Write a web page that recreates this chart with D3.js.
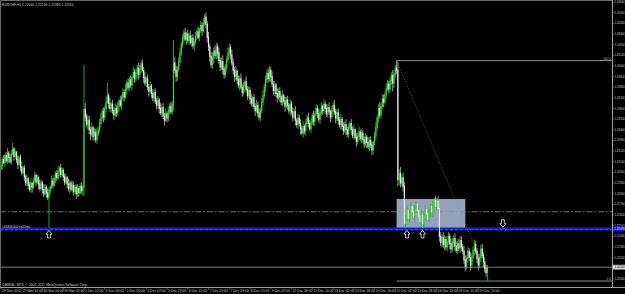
<!DOCTYPE html>
<html>
<head>
<meta charset="utf-8">
<script src="https://cdn.jsdelivr.net/npm/d3@7"></script>
<style>
html, body { margin: 0; background: #000; }
svg { display: block; font-family: "Liberation Sans", Arial, sans-serif; }
</style>
</head>
<body>
<svg id="chart"></svg>
<script>
// EURCHF H1 closes, one per bar (open = previous close)
const firstOpen = 1.2303
const closes = [
  1.2306,1.2312,1.2309,1.2316,1.2311,1.2318,1.2314,1.2310,1.2317,1.2322,
  1.2315,1.2319,1.2312,1.2308,1.2314,1.2305,1.2300,1.2304,1.2296,1.2290,
  1.2294,1.2288,1.2284,1.2290,1.2286,1.2292,1.2297,1.2291,1.2295,1.2289,
  1.2285,1.2290,1.2284,1.2280,1.2286,1.2281,1.2277,1.2283,1.2286,1.2292,
  1.2288,1.2294,1.2299,1.2295,1.2301,1.2304,1.2298,1.2302,1.2296,1.2291,
  1.2295,1.2289,1.2285,1.2290,1.2284,1.2288,1.2282,1.2286,1.2280,1.2285,
  1.2281,1.2287,1.2283,1.2286,1.2359,1.2352,1.2345,1.2349,1.2340,1.2336,
  1.2342,1.2334,1.2338,1.2331,1.2336,1.2340,1.2346,1.2351,1.2357,1.2352,
  1.2360,1.2366,1.2372,1.2365,1.2360,1.2364,1.2358,1.2354,1.2360,1.2356,
  1.2362,1.2367,1.2363,1.2370,1.2375,1.2371,1.2378,1.2384,1.2380,1.2387,
  1.2382,1.2389,1.2394,1.2388,1.2393,1.2398,1.2392,1.2397,1.2402,1.2396,
  1.2389,1.2384,1.2388,1.2380,1.2376,1.2381,1.2374,1.2370,1.2375,1.2367,
  1.2363,1.2368,1.2360,1.2356,1.2361,1.2353,1.2349,1.2355,1.2351,1.2358,
  1.2362,1.2357,1.2364,1.2403,1.2396,1.2390,1.2397,1.2404,1.2412,1.2420,
  1.2426,1.2431,1.2425,1.2430,1.2424,1.2428,1.2422,1.2426,1.2419,1.2423,
  1.2428,1.2432,1.2427,1.2434,1.2438,1.2433,1.2440,1.2446,1.2439,1.2427,
  1.2418,1.2409,1.2401,1.2407,1.2414,1.2410,1.2418,1.2412,1.2405,1.2399,
  1.2404,1.2397,1.2392,1.2398,1.2406,1.2412,1.2417,1.2410,1.2403,1.2396,
  1.2390,1.2395,1.2387,1.2382,1.2388,1.2380,1.2375,1.2381,1.2385,1.2378,
  1.2372,1.2377,1.2369,1.2365,1.2370,1.2362,1.2358,1.2363,1.2356,1.2352,
  1.2358,1.2366,1.2372,1.2380,1.2387,1.2393,1.2388,1.2396,1.2390,1.2383,
  1.2377,1.2382,1.2374,1.2370,1.2376,1.2371,1.2366,1.2372,1.2367,1.2362,
  1.2368,1.2363,1.2358,1.2364,1.2357,1.2352,1.2357,1.2349,1.2345,1.2351,
  1.2346,1.2341,1.2337,1.2343,1.2339,1.2346,1.2351,1.2346,1.2341,1.2347,
  1.2353,1.2348,1.2355,1.2360,1.2355,1.2350,1.2356,1.2362,1.2358,1.2364,
  1.2360,1.2355,1.2361,1.2357,1.2352,1.2358,1.2363,1.2357,1.2351,1.2356,
  1.2349,1.2345,1.2350,1.2343,1.2339,1.2345,1.2340,1.2336,1.2342,1.2346,
  1.2340,1.2335,1.2340,1.2333,1.2329,1.2334,1.2338,1.2332,1.2337,1.2331,
  1.2327,1.2333,1.2328,1.2324,1.2330,1.2326,1.2321,1.2328,1.2334,1.2342,
  1.2351,1.2360,1.2354,1.2362,1.2369,1.2366,1.2373,1.2379,1.2383,1.2378,
  1.2386,1.2391,1.2384,1.2392,1.2398,1.2396,1.2293,1.2299,1.2290,1.2295,
  1.2287,1.2252,1.2258,1.2264,1.2257,1.2262,1.2268,1.2263,1.2258,1.2265,
  1.2270,1.2264,1.2259,1.2254,1.2260,1.2252,1.2258,1.2265,1.2261,1.2256,
  1.2262,1.2268,1.2263,1.2270,1.2274,1.2268,1.2273,1.2266,1.2240,1.2234,
  1.2239,1.2232,1.2237,1.2230,1.2235,1.2240,1.2233,1.2228,1.2234,1.2238,
  1.2231,1.2227,1.2233,1.2229,1.2236,1.2230,1.2226,1.2218,1.2212,1.2219,
  1.2226,1.2220,1.2213,1.2220,1.2227,1.2232,1.2226,1.2219,1.2213,1.2220,
  1.2228,1.2222,1.2216,1.2210,1.2206,1.2211
]

// wick lengths above / below the body, in pips, one per bar
const upperWicks = [
  3,2,4,1,3,5,2,3,4,6,2,3,1,4,2,3,5,2,3,2,
  4,2,3,5,1,3,4,2,3,2,4,3,2,5,3,2,4,3,2,5,
  3,4,2,3,5,2,4,3,2,3,4,2,5,3,2,4,3,2,3,4,
  2,3,4,2,4,6,3,5,4,3,5,2,4,3,6,3,4,5,3,4,
  3,5,4,3,5,2,4,3,5,3,4,2,5,3,4,3,5,2,4,3,
  4,3,5,3,4,3,5,4,3,4,3,5,2,4,3,5,2,4,3,4,
  3,4,2,5,3,4,3,5,2,4,3,4,3,2,5,4,3,4,5,3,
  4,3,5,2,4,3,5,3,4,2,4,3,5,2,4,3,5,2,4,3,
  5,3,4,6,3,5,4,3,5,3,4,6,3,4,3,5,4,3,5,4,
  3,5,2,4,3,5,3,4,2,5,3,4,3,5,2,4,3,5,3,4,
  3,4,5,3,4,3,5,4,3,5,3,4,2,5,3,4,3,5,2,4,
  3,4,2,5,3,4,3,5,2,4,3,4,3,5,2,4,3,5,3,4,
  3,5,2,4,3,5,3,4,2,5,3,4,3,5,2,4,3,5,3,4,
  4,3,5,2,4,3,5,3,4,2,4,3,5,2,4,3,5,2,4,3,
  3,4,2,5,3,4,3,2,4,5,3,4,6,3,5,4,3,5,4,3,
  4,3,5,4,3,2,8,4,6,3,5,4,3,5,4,3,4,3,5,4,
  3,4,5,3,4,3,5,4,3,4,5,3,4,3,2,4,3,5,6,4,
  3,5,4,3,5,4,3,5,4,3,5,4,3,5,2,4,3,5,4,3,
  4,3,5,4,3,5,4,3,5,3,4,5,3,4,3,2
]
const lowerWicks = [
  2,3,1,4,2,3,5,2,3,1,4,2,3,5,2,4,3,2,4,3,
  3,4,2,3,5,2,3,4,2,5,3,2,4,3,2,5,3,6,4,2,
  3,2,4,3,2,5,3,2,4,3,2,4,3,5,2,3,4,2,5,3,
  4,2,3,5,8,4,3,5,4,6,3,4,5,3,4,2,3,4,3,5,
  3,4,2,5,3,4,3,5,2,4,3,5,2,4,3,4,2,5,3,4,
  3,5,2,4,3,4,5,3,4,2,5,3,4,3,5,2,4,3,5,3,
  4,3,5,2,4,3,5,2,4,3,4,2,3,6,3,5,4,3,4,3,
  3,4,2,5,3,4,2,4,3,5,3,4,2,4,3,5,2,3,4,5,
  4,5,3,4,5,3,4,5,3,4,3,5,4,3,4,3,5,4,3,4,
  5,3,4,3,5,2,4,3,5,3,4,2,5,3,4,3,5,2,4,3,
  4,3,4,3,5,3,4,3,5,3,4,5,3,4,2,5,3,4,3,5,
  2,4,3,5,3,4,2,5,3,4,3,5,2,4,3,5,3,4,2,4,
  3,4,5,2,4,3,5,3,4,2,5,3,4,3,5,2,4,3,5,3,
  4,3,5,3,4,2,5,3,4,3,5,3,4,2,5,3,4,3,5,3,
  4,3,5,2,4,3,5,4,3,4,3,5,3,4,3,5,2,4,3,4,
  3,4,2,5,3,4,6,5,4,3,5,3,4,3,5,4,3,4,3,5,
  3,4,3,5,4,3,4,3,5,4,3,4,3,5,3,4,3,4,5,3,
  4,3,5,3,4,3,5,4,3,4,5,3,4,3,5,4,3,4,5,3,
  4,3,5,3,4,5,3,4,5,3,4,3,5,4,4,3
]

// long wicks that stand out
const spikes = [
  { bar: 37,  low: 1.2248 },
  { bar: 64,  high: 1.2401 },
  { bar: 82,  high: 1.2384 },
  { bar: 109, high: 1.2406 },
  { bar: 133, high: 1.2424 },
  { bar: 157, high: 1.2449 },
  { bar: 286, low: 1.2316 },
  { bar: 302, low: 1.2376 },
  { bar: 305, high: 1.2405 },
  { bar: 325, low: 1.2248 },
  { bar: 354, high: 1.2240 },
  { bar: 375, low: 1.2198 }
]

const priceTicks = [
  1.2460,1.2450,1.2440,1.2430,1.2420,1.2410,1.2400,1.2390,1.2380,
  1.2370,1.2360,1.2350,1.2340,1.2330,1.2320,1.2310,1.2300,1.2290,
  1.2280,1.2270,1.2260,1.2250,1.2240,1.2230,1.2220,1.2210,1.2200
]

const timeLabels = [
  "28 Nov 2011","29 Nov 12:00","30 Nov 04:00","30 Nov 20:00","1 Dec 12:00",
  "2 Dec 04:00","2 Dec 20:00","5 Dec 07:00","5 Dec 23:00","6 Dec 15:00",
  "7 Dec 07:00","7 Dec 23:00","8 Dec 15:00","9 Dec 07:00","11 Dec 18:00",
  "12 Dec 10:00","13 Dec 02:00","13 Dec 18:00","14 Dec 10:00","15 Dec 02:00",
  "15 Dec 18:00","16 Dec 10:00","18 Dec 21:00","19 Dec 13:00"
]
const barsPerLabel = 16

const sellLimit = 1.2247
const dashLevel = 1.2263
const box = { from: 305, to: 358, top: 1.2275, bottom: 1.2247 }
const fibo = { from: 305, high: 1.2405, to: 375, low: 1.2198 }
const upArrows = [37, 313, 325]
const downArrows = [387]

var width = 625, height = 294
var plotRight = 612, plotBottom = 287

var svg = d3.select("#chart").attr("width", width).attr("height", height)

var xScale = d3.scaleLinear().domain([0, 471]).range([1, 1 + 471 * 1.297])
var yScale = d3.scaleLinear().domain([1.2460, 1.2190]).range([2, 2 + 27 * 10.65])

svg.append("rect").attr("width", width).attr("height", height).attr("fill", "#000")

svg.append("clipPath").attr("id", "plot")
   .append("rect").attr("x", 0).attr("y", 0).attr("width", plotRight).attr("height", plotBottom)

var plot = svg.append("g").attr("clip-path", "url(#plot)")

// range rectangle
plot.append("rect")
    .attr("x", xScale(box.from))
    .attr("y", yScale(box.top))
    .attr("width", xScale(box.to) - xScale(box.from))
    .attr("height", yScale(box.bottom) - yScale(box.top))
    .attr("fill", "#93a3b7")

// horizontal levels
plot.append("line")
    .attr("x1", 0).attr("x2", plotRight)
    .attr("y1", yScale(dashLevel)).attr("y2", yScale(dashLevel))
    .attr("stroke", "#8a8a8a").attr("stroke-width", 0.8)
    .attr("stroke-dasharray", "6,2,1.5,2")

const bid = closes[closes.length - 1]
plot.append("line")
    .attr("x1", 0).attr("x2", plotRight)
    .attr("y1", yScale(bid)).attr("y2", yScale(bid))
    .attr("stroke", "#8c8c8c").attr("stroke-width", 0.9)

plot.append("line")
    .attr("x1", 0).attr("x2", plotRight)
    .attr("y1", yScale(sellLimit)).attr("y2", yScale(sellLimit))
    .attr("stroke", "#1c1ce6").attr("stroke-width", 2.6)
plot.append("line")
    .attr("x1", 0).attr("x2", plotRight)
    .attr("y1", yScale(sellLimit) + 1).attr("y2", yScale(sellLimit) + 1)
    .attr("stroke", "#7c7cff").attr("stroke-width", 0.5)
    .attr("stroke-dasharray", "3,2")

// fibonacci
plot.selectAll(".fib")
    .data([fibo.high, fibo.low])
    .join("line")
    .attr("x1", xScale(fibo.from)).attr("x2", plotRight)
    .attr("y1", d => yScale(d)).attr("y2", d => yScale(d))
    .attr("stroke", "#9a9a9a").attr("stroke-width", 0.9)

plot.append("line")
    .attr("x1", xScale(fibo.from)).attr("y1", yScale(fibo.high))
    .attr("x2", xScale(fibo.to) + 2).attr("y2", yScale(fibo.low))
    .attr("stroke", "#8a8a8a").attr("stroke-width", 0.6)
    .attr("stroke-dasharray", "1,1.5")

// candles
var spikeMap = new Map(spikes.map(d => [d.bar, d]))
var bars = closes.map((c, i) => {
    var o = i ? closes[i - 1] : firstOpen
    var s = spikeMap.get(i) || {}
    var top = Math.max(o, c), bottom = Math.min(o, c)
    return {
        i: i, o: o, c: c,
        high: s.high !== undefined ? s.high : top + upperWicks[i] / 10000,
        low: s.low !== undefined ? s.low : bottom - lowerWicks[i] / 10000
    }
})

plot.selectAll(".wick")
    .data(bars)
    .join("line")
    .attr("x1", d => xScale(d.i)).attr("x2", d => xScale(d.i))
    .attr("y1", d => yScale(d.high))
    .attr("y2", d => yScale(d.low))
    .attr("stroke", d => d.c >= d.o ? "#28b428" : "#a8a8a8")
    .attr("stroke-width", 0.9)

plot.selectAll(".body")
    .data(bars)
    .join("line")
    .attr("x1", d => xScale(d.i)).attr("x2", d => xScale(d.i))
    .attr("y1", d => yScale(Math.max(d.o, d.c)) - 0.5)
    .attr("y2", d => yScale(Math.min(d.o, d.c)) + 0.5)
    .attr("stroke", d => d.c >= d.o ? "#36dc36" : "#ececec")
    .attr("stroke-width", 1.15)

// arrows
function arrow(dir) {
    var s = dir
    return `M0,0 L3,${3.6*s} L1.4,${3.6*s} L1.4,${7.5*s} L-1.4,${7.5*s} L-1.4,${3.6*s} L-3,${3.6*s} Z`
}
plot.selectAll(".up")
    .data(upArrows)
    .join("path")
    .attr("d", arrow(1))
    .attr("transform", d => `translate(${xScale(d)},${yScale(sellLimit) + 1.6})`)
    .attr("fill", "#000").attr("stroke", "#f0f0f0").attr("stroke-width", 0.8)
plot.selectAll(".down")
    .data(downArrows)
    .join("path")
    .attr("d", arrow(-1))
    .attr("transform", d => `translate(${xScale(d)},${yScale(sellLimit) - 1.6})`)
    .attr("fill", "#000").attr("stroke", "#f0f0f0").attr("stroke-width", 0.8)

// frame
svg.append("path")
   .attr("d", `M0.5,${plotBottom} V0.5 H${plotRight}`)
   .attr("fill", "none").attr("stroke", "#6a6a6a").attr("stroke-width", 1)
svg.append("line")
   .attr("x1", plotRight + 0.5).attr("x2", plotRight + 0.5)
   .attr("y1", 0).attr("y2", plotBottom)
   .attr("stroke", "#a0a0a0").attr("stroke-width", 1)
svg.append("line")
   .attr("x1", 0).attr("x2", width)
   .attr("y1", plotBottom + 0.5).attr("y2", plotBottom + 0.5)
   .attr("stroke", "#a0a0a0").attr("stroke-width", 1)

// price axis
var fmt = d3.format(".5f")
var yAxis = svg.append("g")
yAxis.selectAll("line")
     .data(priceTicks)
     .join("line")
     .attr("x1", plotRight).attr("x2", plotRight + 2)
     .attr("y1", d => yScale(d)).attr("y2", d => yScale(d))
     .attr("stroke", "#a0a0a0").attr("stroke-width", 0.6)
yAxis.selectAll("text")
     .data(priceTicks)
     .join("text")
     .attr("x", plotRight + 2.4)
     .attr("y", d => yScale(d) + 1)
     .attr("font-size", 2.85)
     .attr("fill", "#c4c4c4")
     .text(d => fmt(d))

// axis markers
function marker(price, bg, fg) {
    var g = svg.append("g")
    g.append("rect")
     .attr("x", plotRight + 1).attr("y", yScale(price) - 2.4)
     .attr("width", width - plotRight - 1).attr("height", 4.8)
     .attr("fill", bg)
    g.append("text")
     .attr("x", plotRight + 2.4).attr("y", yScale(price) + 1)
     .attr("font-size", 2.85).attr("fill", fg)
     .text(fmt(price))
}
marker(sellLimit, "#1010ee", "#ffffff")
marker(bid, "#d4d4d4", "#000000")

// time axis
var tickBars = timeLabels.map((t, k) => k * barsPerLabel)
var xAxis = svg.append("g")
xAxis.selectAll("line")
     .data(tickBars)
     .join("line")
     .attr("x1", d => xScale(d)).attr("x2", d => xScale(d))
     .attr("y1", plotBottom).attr("y2", plotBottom + 2.5)
     .attr("stroke", "#a0a0a0").attr("stroke-width", 0.6)
xAxis.selectAll("text")
     .data(timeLabels)
     .join("text")
     .attr("x", (d, k) => xScale(tickBars[k]) + 1)
     .attr("y", plotBottom + 5.2)
     .attr("font-size", 3.4)
     .attr("fill", "#c4c4c4")
     .text(d => d)

// labels inside the chart
var last = bars[bars.length - 1]
svg.append("text")
   .attr("x", 2).attr("y", 5.5)
   .attr("font-size", 3.4).attr("fill", "#c8c8c8")
   .text("EURCHF,H1 " + [last.o, last.high, last.low, last.c].map(fmt).join(" "))

svg.append("text")
   .attr("x", 2).attr("y", yScale(sellLimit) - 0.6)
   .attr("font-size", 3.2).attr("fill", "#c8c8c8")
   .text("#43456000 sell limit")

svg.append("text")
   .attr("x", 2).attr("y", plotBottom - 1.5)
   .attr("font-size", 3.4).attr("fill", "#c8c8c8")
   .text("OANDA - MT4, © 2001-2011 MetaQuotes Software Corp.")

svg.append("text")
   .attr("x", plotRight - 1).attr("y", yScale(fibo.high) - 1)
   .attr("text-anchor", "end")
   .attr("font-size", 3.2).attr("fill", "#b0b0b0")
   .text("100.0")
svg.append("text")
   .attr("x", plotRight - 1).attr("y", yScale(fibo.low) - 1)
   .attr("text-anchor", "end")
   .attr("font-size", 3.2).attr("fill", "#b0b0b0")
   .text("0.0")
</script>
</body>
</html>
